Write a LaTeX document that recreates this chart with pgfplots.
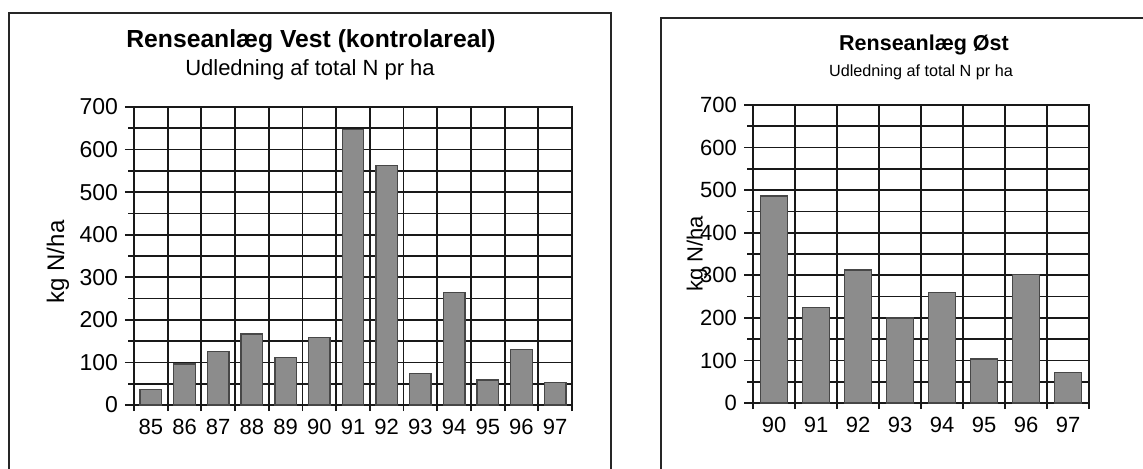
\documentclass[border=0pt]{standalone}
\usepackage{fontspec}
\setmainfont{Liberation Sans}
\usepackage{pgfplots}
\pgfplotsset{compat=1.18}
\pgfplotsset{
  panel/.style={
    scale only axis,
    anchor=south west,
    ymin=0, ymax=700,
    ytick={0,100,...,700},
    minor ytick={50,150,...,650},
    xmajorgrids=false, xminorgrids=true,
    ymajorgrids=true, yminorgrids=true,
    major grid style={black!90, line width=0.9pt},
    minor grid style={black!90, line width=0.9pt},
    axis line style={black!90, line width=0.9pt},
    tick align=outside, tick pos=left,
    major tick length=4.5pt, minor tick length=3pt,
    major x tick style={draw=none},
    every tick/.style={black!90, line width=0.9pt},
    /pgf/number format/assume math mode=true,
    ylabel={kg N/ha},
    ybar, bar width=0.64,
  },
  barstyle/.style={draw=black!72, line width=0.7pt, fill=black!45},
}
\begin{document}
\begin{tikzpicture}
\path[use as bounding box] (0,0) rectangle (571.5pt,234pt);
% frames
\draw[line width=1pt, black!85] (4.5pt,-2pt) -- (4.5pt,227.5pt) -- (305.5pt,227.5pt) -- (305.5pt,-2pt);
\draw[line width=1pt, black!85] (330.5pt,-2pt) -- (330.5pt,225pt) -- (574pt,225pt);
% titles
\node[anchor=base, inner sep=0pt, font=\bfseries\fontsize{12.35}{14}\selectfont] at (155.5pt,210.5pt) {Renseanlæg Vest (kontrolareal)};
\node[anchor=base, inner sep=0pt, font=\fontsize{11}{13}\selectfont] at (155pt,196.5pt) {Udledning af total N pr ha};
\node[anchor=base, inner sep=0pt, font=\bfseries\fontsize{10.75}{13}\selectfont] at (462pt,209pt) {Renseanlæg Øst};
\node[anchor=base, inner sep=0pt, font=\fontsize{8.1}{10}\selectfont] at (460.5pt,196pt) {Udledning af total N pr ha};

\begin{axis}[panel,
  at={(67pt,31.5pt)}, width=219pt, height=149pt,
  xmin=-0.5, xmax=12.5,
  xtick={0,...,12},
  xticklabels={85,86,87,88,89,90,91,92,93,94,95,96,97},
  minor xtick={-0.5,0.5,...,12.5},
  yticklabel style={font=\fontsize{11.5}{13}\selectfont},
  xticklabel style={font=\fontsize{11}{12}\selectfont, yshift=1pt},
  ylabel style={at={(axis description cs:-0.1735,0.48)}, anchor=center, font=\fontsize{12}{14}\selectfont},
]
\addplot[barstyle] coordinates {(0,37) (1,96) (2,125) (3,167) (4,112) (5,159) (6,647) (7,563) (8,74) (9,264) (10,59) (11,131) (12,53)};
\end{axis}

\begin{axis}[panel,
  at={(376.5pt,32.5pt)}, width=168pt, height=149pt,
  xmin=-0.5, xmax=7.5,
  xtick={0,...,7},
  xticklabels={90,91,92,93,94,95,96,97},
  minor xtick={-0.5,0.5,...,7.5},
  yticklabel style={font=\fontsize{11}{12}\selectfont},
  xticklabel style={font=\fontsize{11}{12}\selectfont, yshift=1pt},
  ylabel style={at={(axis description cs:-0.1667,0.5)}, anchor=center, font=\fontsize{11}{13}\selectfont},
]
\addplot[barstyle] coordinates {(0,486) (1,224) (2,312) (3,200) (4,259) (5,103) (6,302) (7,72)};
\end{axis}
\end{tikzpicture}
\end{document}
